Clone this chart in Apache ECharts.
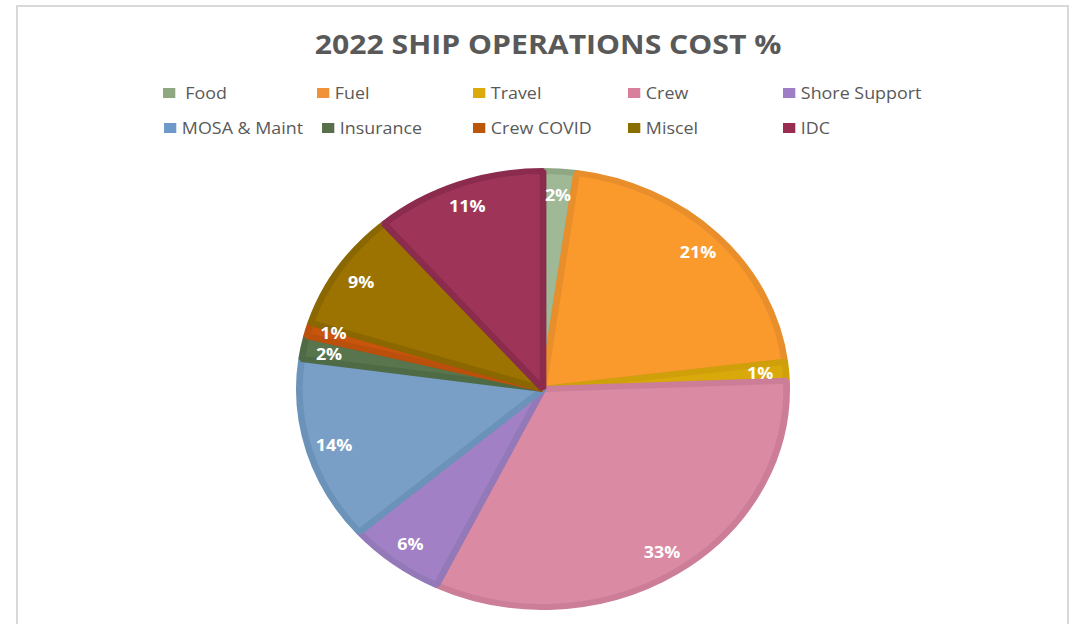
<!DOCTYPE html>
<html>
<head>
<meta charset="utf-8">
<script src="https://cdn.jsdelivr.net/npm/echarts@6/dist/echarts.min.js"></script>
<style>
  html, body { margin: 0; padding: 0; background: #ffffff; width: 1073px; height: 624px; overflow: hidden; }
  #frame { position: absolute; left: 16px; top: 5px; width: 1049px; height: 700px; border: 2px solid #d9d9d9; box-sizing: content-box; }
  #chart { position: absolute; left: 0; top: 0; width: 960px; height: 624px; transform-origin: 0 0; }
</style>
</head>
<body>
<div id="frame"></div>
<div id="chart"></div>
<script>
// ---- data ----
const titleText = '2022 SHIP OPERATIONS COST %';
const categories = ['Food', 'Fuel', 'Travel', 'Crew', 'Shore Support', 'MOSA & Maint', 'Insurance', 'Crew COVID', 'Miscel', 'IDC'];
const costPercent = [2.2, 20.8, 1.4, 32.8, 6.4, 13.6, 1.7, 1.0, 8.8, 11.3];

// ---- styles ----
const fillColors   = ['#9fb896', '#fb9a2c', '#d9a90c', '#da8aa3', '#a180c6', '#7a9fc6', '#58754d', '#c8550c', '#9c7300', '#9e3559'];
const borderColors = ['#8ea785', '#e88f2c', '#cfa00a', '#cc7e98', '#9479b8', '#6b93ba', '#4f6b45', '#bb4f0c', '#8a6700', '#8b2b4e'];
const legendColors = ['#8fa881', '#f0923a', '#dcaa0a', '#d77f9b', '#9e7ec4', '#6f99c8', '#57704b', '#bc560a', '#8a6d00', '#9a2c50'];

// horizontal stretch of the reference picture
const S = 247 / 221;
const el = document.getElementById('chart');
el.style.transform = 'scaleX(' + S + ')';

// legend grid (screen pixels)
const legendLeftPx = [163, 317, 473, 628, 783, 164, 322, 473, 628, 783];
const legendTopPx  = [84, 84, 84, 84, 84, 119, 119, 119, 119, 119];

const chart = echarts.init(el, null, { renderer: 'svg', width: 960, height: 624 });

const font = 'Open Sans';
const legends = categories.map((name, i) => ({
  data: [{ name: name, itemStyle: { color: legendColors[i], borderWidth: 0 } }],
  left: legendLeftPx[i] / S,
  top: legendTopPx[i],
  padding: 0,
  icon: 'rect',
  itemWidth: 11,
  itemHeight: 10,
  selectedMode: false,
  itemStyle: { borderWidth: 0 },
  textStyle: {
    fontFamily: font, fontSize: 16, color: '#595959', lineHeight: 18,
    padding: name === 'Food' ? [0, 0, 0, 4] : 0
  }
}));

const pieData = categories.map((name, i) => ({
  name: name,
  value: costPercent[i],
  itemStyle: { color: fillColors[i], borderColor: borderColors[i] }
}));
const labelData = categories.map((name, i) => ({ name: name, value: costPercent[i] }));

chart.setOption({
  animation: false,
  backgroundColor: 'transparent',
  title: {
    text: titleText,
    left: 542.5 / S,
    textAlign: 'center',
    top: 25,
    textStyle: { fontFamily: font, fontSize: 27, fontWeight: 'bold', color: '#595959' }
  },
  legend: legends,
  series: [
    {
      type: 'pie',
      center: [543 / S, 389],
      radius: [0, 218],
      startAngle: 90,
      clockwise: true,
      avoidLabelOverlap: false,
      silent: true,
      label: { show: false },
      labelLine: { show: false },
      itemStyle: { borderWidth: 6, borderJoin: 'bevel' },
      data: pieData
    },
    {
      type: 'pie',
      center: [543 / S, 389],
      radius: [164, 220],
      startAngle: 90,
      clockwise: true,
      avoidLabelOverlap: false,
      silent: true,
      itemStyle: { color: 'transparent', borderWidth: 0 },
      label: {
        show: true,
        position: 'inside',
        formatter: p => Math.round(p.percent) + '%',
        fontFamily: font,
        fontSize: 16,
        lineHeight: 14,
        fontWeight: 'bold',
        color: '#ffffff'
      },
      labelLayout: function (params) {
        if (params.dataIndex === 7) return { dy: -3 };
        if (params.dataIndex === 6) return { dy: 2 };
        return {};
      },
      labelLine: { show: false },
      data: labelData
    }
  ]
});
</script>
</body>
</html>
